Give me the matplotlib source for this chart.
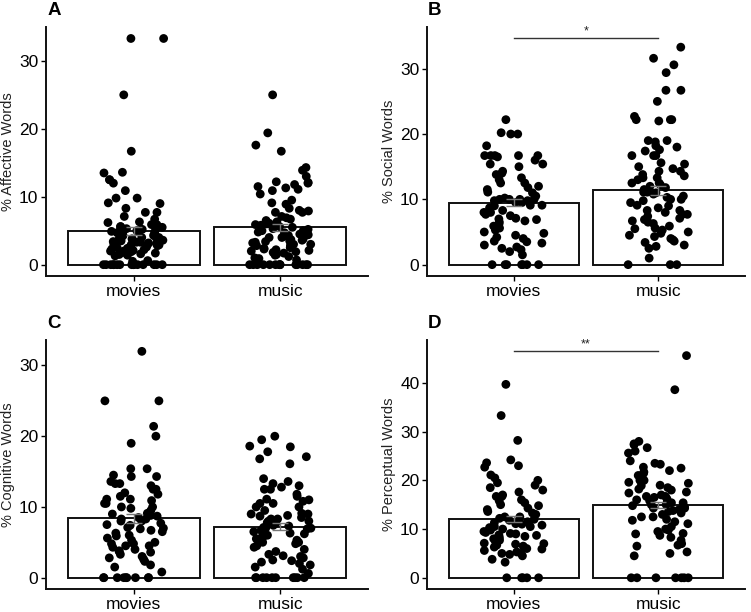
import numpy as np
import matplotlib.pyplot as plt

plt.rcParams['font.family'] = ['Liberation Sans', 'DejaVu Sans']

groups = ['movies', 'music']

# values (% words per participant)
affective_movies = [33.3, 33.3, 25.0, 16.7, 13.6, 13.5, 12.5, 12.5, 12.0, 10.9, 9.8, 9.8, 9.1, 9.0,
                    8.3, 7.7, 7.7, 7.1, 6.7, 6.3, 6.2, 5.9, 5.9, 5.6, 5.6, 5.5, 5.3, 5.3, 5.2, 5.0,
                    5.0, 5.0, 4.9, 4.8, 4.8, 4.7, 4.5, 4.5, 4.3, 4.3, 4.2, 4.0, 4.0, 4.0, 3.9, 3.8,
                    3.7, 3.6, 3.5, 3.4, 3.3, 3.3, 3.2, 3.1, 3.0, 3.0, 2.9, 2.9, 2.8, 2.7, 2.6, 2.5,
                    2.4, 2.3, 2.2, 2.1, 2.0, 2.0, 1.9, 1.8, 1.7, 1.6, 1.5, 1.4, 1.3, 0.6, 0.5,
                    0, 0, 0, 0, 0, 0, 0, 0, 0, 0, 0, 0, 0, 0, 0]
affective_music = [25.0, 19.4, 17.6, 16.7, 14.3, 13.9, 13.0, 12.2, 12.1, 12.0, 11.8, 11.5, 11.3, 11.1,
                   10.9, 10.4, 9.5, 9.1, 8.9, 8.3, 8.0, 7.9, 7.7, 7.7, 7.1, 6.9, 6.7, 6.5, 6.3, 6.1,
                   6.0, 5.9, 5.8, 5.6, 5.5, 5.3, 5.2, 5.0, 5.0, 4.8, 4.7, 4.5, 4.4, 4.3, 4.2, 4.0,
                   4.0, 3.8, 3.7, 3.6, 3.5, 3.4, 3.3, 3.2, 3.0, 3.0, 2.9, 2.8, 2.6, 2.5, 2.4, 2.3,
                   2.2, 2.1, 2.0, 1.9, 1.8, 1.7, 1.5, 1.4, 1.2, 1.0, 0.9, 0.7,
                   0, 0, 0, 0, 0, 0, 0, 0, 0, 0, 0, 0, 0, 0]
social_movies = [22.2, 20.2, 20.0, 20.0, 18.2, 16.7, 16.7, 16.7, 16.7, 16.7, 16.5, 16.0, 15.4, 15.4,
                 15.0, 14.3, 14.0, 13.8, 13.3, 13.0, 12.5, 12.5, 12.0, 11.8, 11.5, 11.1, 11.0, 10.5,
                 10.2, 10.0, 10.0, 10.0, 10.0, 9.8, 9.8, 9.5, 9.5, 9.1, 9.1, 9.0, 8.7, 8.3, 8.3, 8.0,
                 8.0, 7.7, 7.5, 7.1, 7.0, 6.9, 6.7, 6.5, 6.2, 5.9, 5.6, 5.3, 5.0, 4.8, 4.5, 4.2,
                 4.0, 3.6, 3.5, 3.3, 3.0, 2.7, 2.5, 2.3, 2.0, 1.5, 0, 0, 0, 0, 0, 0, 0]
social_music = [33.3, 31.6, 30.6, 29.4, 26.7, 26.7, 25.0, 22.7, 22.2, 22.2, 22.0, 22.2, 19.0, 19.0,
                18.8, 18.2, 18.0, 17.6, 17.4, 16.7, 16.7, 16.7, 15.6, 15.4, 15.0, 14.7, 14.3, 14.3,
                13.8, 13.6, 13.3, 13.3, 13.0, 12.5, 12.5, 12.2, 12.0, 11.8, 11.5, 11.1, 11.1, 11.0,
                10.8, 10.5, 10.3, 10.0, 10.0, 9.8, 9.5, 9.1, 9.0, 8.7, 8.3, 8.3, 8.0, 7.7, 7.7, 7.4,
                7.1, 6.9, 6.7, 6.5, 6.3, 5.9, 5.6, 5.5, 5.3, 5.0, 4.8, 4.5, 4.3, 4.0, 3.8, 3.6, 3.4,
                3.0, 2.8, 2.5, 1.0, 0, 0, 0]
cognitive_movies = [32.0, 25.0, 25.0, 21.4, 20.0, 19.0, 15.4, 15.4, 14.5, 14.3, 14.3, 13.6, 13.3, 13.3,
                    13.0, 12.5, 12.5, 12.0, 11.8, 11.5, 11.1, 11.1, 10.9, 10.5, 10.5, 10.0, 10.0, 9.8,
                    9.5, 9.1, 9.0, 8.8, 8.7, 8.5, 8.3, 8.3, 8.0, 8.0, 7.7, 7.5, 7.4, 7.1, 7.0, 6.9,
                    6.7, 6.5, 6.3, 6.0, 5.9, 5.6, 5.3, 5.0, 4.8, 4.8, 4.5, 4.5, 4.3, 4.0, 3.8, 3.7,
                    3.6, 3.3, 3.0, 2.8, 2.6, 2.3, 1.8, 1.5, 0.8, 0, 0, 0, 0, 0, 0, 0, 0, 0]
cognitive_music = [20.0, 19.5, 18.6, 18.5, 17.8, 17.1, 16.8, 16.1, 14.0, 13.6, 13.3, 13.0, 12.8, 12.5,
                   12.5, 11.8, 11.5, 11.1, 11.0, 10.8, 10.5, 10.5, 10.0, 10.0, 9.5, 9.1, 9.0, 9.0,
                   8.8, 8.7, 8.5, 8.3, 8.3, 8.0, 8.0, 7.8, 7.7, 7.5, 7.4, 7.3, 7.1, 7.0, 7.0, 6.9,
                   6.7, 6.7, 6.5, 6.3, 6.2, 6.0, 5.9, 5.7, 5.5, 5.3, 5.0, 5.0, 4.8, 4.5, 4.3, 4.0,
                   3.7, 3.3, 3.1, 3.0, 2.8, 2.5, 2.4, 2.2, 2.0, 1.8, 1.5, 1.2, 0.6,
                   0, 0, 0, 0, 0, 0, 0, 0, 0, 0]
perceptual_movies = [39.7, 33.3, 28.2, 24.2, 23.6, 23.0, 22.7, 21.1, 20.5, 20.0, 19.5, 19.0, 18.5, 18.0,
                     17.6, 17.0, 16.7, 16.7, 16.0, 15.8, 15.4, 15.0, 14.8, 14.3, 14.0, 13.6, 13.3, 13.0,
                     12.5, 12.5, 12.2, 12.0, 11.8, 11.5, 11.3, 11.1, 11.0, 10.8, 10.5, 10.5, 10.3, 10.0,
                     10.0, 9.8, 9.5, 9.3, 9.1, 9.0, 8.8, 8.7, 8.5, 8.3, 8.0, 8.0, 7.7, 7.5, 7.1, 7.0,
                     6.9, 6.7, 6.5, 6.3, 6.0, 5.9, 5.6, 5.3, 5.0, 5.0, 4.8, 4.5, 3.8, 3.2,
                     0, 0, 0, 0, 0]
perceptual_music = [45.6, 38.6, 28.0, 27.5, 27.3, 26.7, 26.0, 25.6, 24.0, 23.5, 23.3, 22.7, 22.5, 22.0,
                    21.7, 21.4, 21.0, 20.0, 20.0, 19.6, 19.4, 19.0, 18.9, 18.5, 18.2, 18.0, 17.6, 17.4,
                    17.0, 16.7, 16.7, 16.5, 16.2, 16.0, 15.8, 15.6, 15.4, 15.4, 15.0, 15.0, 14.8, 14.5,
                    14.3, 14.3, 14.0, 13.8, 13.6, 13.3, 13.0, 12.5, 12.5, 12.0, 11.8, 11.5, 11.1, 10.5,
                    10.0, 9.8, 9.5, 9.1, 9.0, 8.7, 8.3, 7.7, 7.0, 6.7, 6.5, 5.3, 5.0, 4.5,
                    0, 0, 0, 0, 0, 0, 0]

# bar heights (means) and standard errors
affective_mean = [5.0, 5.5]
social_mean = [9.5, 11.4]
cognitive_mean = [8.4, 7.2]
perceptual_mean = [12.0, 15.0]
affective_se = [0.6, 0.5]
social_se = [0.5, 0.7]
cognitive_se = [0.6, 0.5]
perceptual_se = [0.6, 0.6]

panels = [
    ('A', '% Affective Words', [affective_movies, affective_music], affective_mean, affective_se,
     [0, 10, 20, 30], (-1.67, 35.0), None, [0.0613, 0.549, 0.4287, 0.407]),
    ('B', '% Social Words', [social_movies, social_music], social_mean, social_se,
     [0, 10, 20, 30], (-1.74, 36.4), (34.7, '*'), [0.5686, 0.549, 0.4234, 0.407]),
    ('C', '% Cognitive Words', [cognitive_movies, cognitive_music], cognitive_mean, cognitive_se,
     [0, 10, 20, 30], (-1.6, 33.6), None, [0.0613, 0.0376, 0.4287, 0.4068]),
    ('D', '% Perceptual Words', [perceptual_movies, perceptual_music], perceptual_mean, perceptual_se,
     [0, 10, 20, 30, 40], (-2.3, 48.8), (46.6, '**'), [0.5686, 0.0376, 0.4234, 0.4068]),
]

fig = plt.figure(figsize=(7.51, 6.12), dpi=100)

for letter, ylabel, values, means, ses, yticks, ylim, sig, rect in panels:
    ax = fig.add_axes(rect)
    xpos = np.arange(1, len(groups) + 1)
    ax.bar(xpos, means, width=0.9, color='white', edgecolor='#111111', linewidth=1.4, zorder=1)

    # deterministic scrambled jitter, like geom_jitter(width = 0.2)
    for k, vals in enumerate(values):
        idx = np.arange(len(vals)) + 37 * k + 11 * len(values[0])
        u = (np.sin(idx * 12.9898 + len(vals) * 78.233) * 43758.5453) % 1.0
        jit = (u - 0.5) * 0.42
        ax.scatter(xpos[k] + jit, vals, s=40, color='black', edgecolors='none', zorder=2)

    ax.errorbar(xpos, means, yerr=ses, fmt='none', ecolor='#777777', elinewidth=1.0,
                capsize=6, capthick=1.0, zorder=3)

    if sig is not None:
        ypos, star = sig
        ax.plot([1, 2], [ypos, ypos], color='#333333', linewidth=1.0, zorder=3)
        ax.text(1.5, ypos + 0.1, star, ha='center', va='bottom', fontsize=9, color='#222222')

    ax.set_xlim(0.4, 2.6)
    ax.set_ylim(*ylim)
    ax.set_xticks(xpos)
    ax.set_xticklabels(groups)
    ax.set_yticks(yticks)
    ax.tick_params(axis='both', labelsize=12.5, colors='black', length=3.5, width=1.0,
                   direction='out', pad=2)
    ax.set_ylabel(ylabel, fontsize=10.5, color='#222222', labelpad=3)
    for side in ['top', 'right']:
        ax.spines[side].set_visible(False)
    for side in ['left', 'bottom']:
        ax.spines[side].set_linewidth(1.4)
        ax.spines[side].set_color('#111111')
    # panel letter just above the top-left corner of the panel
    top_px = (1 - rect[1] - rect[3]) * 612
    fig.text(rect[0] + 1.0 / 751, 1 - (top_px - 12) / 612, letter, fontsize=13.5,
             fontweight='bold', ha='left', va='baseline')

fig.savefig('out.png', dpi=100)
